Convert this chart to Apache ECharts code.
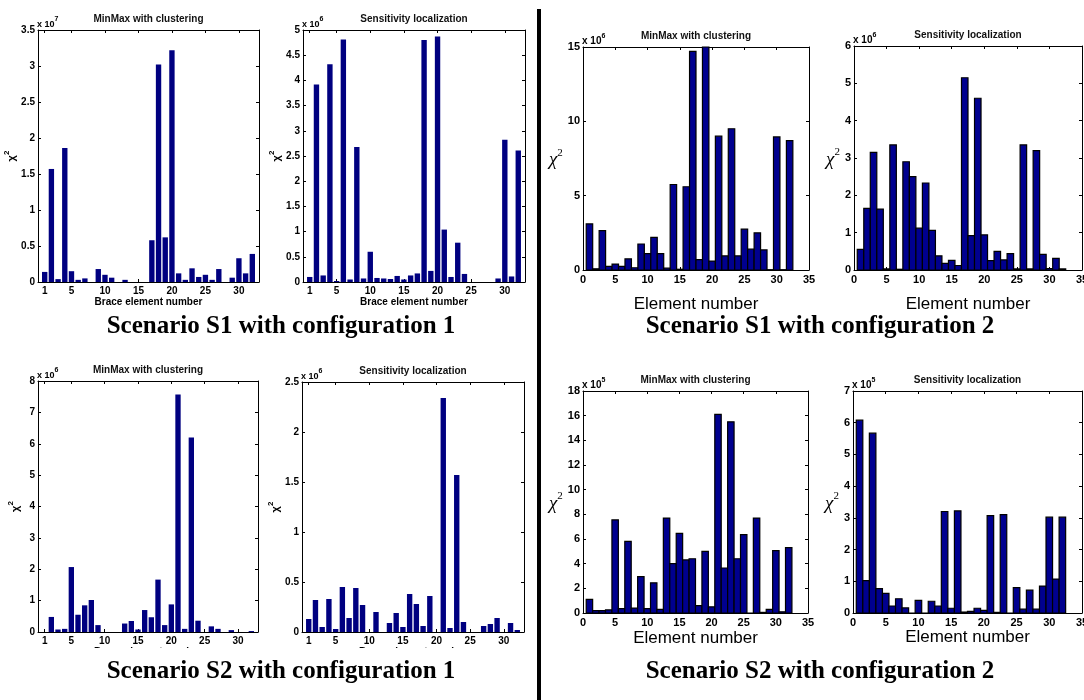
<!DOCTYPE html>
<html><head><meta charset="utf-8">
<script src="https://cdn.jsdelivr.net/npm/echarts@6/dist/echarts.min.js"></script>
<style>html,body{margin:0;padding:0;background:#fff}#c{width:1084px;height:700px}</style>
</head><body><div id="c"></div>
<script>
// ---- data ----
const elements = [1,2,3,4,5,6,7,8,9,10,11,12,13,14,15,16,17,18,19,20,21,22,23,24,25,26,27,28,29,30,31,32];
const xTicksBrace = [1,5,10,15,20,25,30];
// Scenario S1, configuration 1 (x10^7 and x10^6)
const s1c1MinMax = [0.14,1.57,0.04,1.86,0.15,0.03,0.05,0,0.18,0.10,0.06,0,0.03,0,0,0,0.58,3.02,0.62,3.22,0.12,0.03,0.19,0.07,0.10,0.03,0.18,0,0.06,0.33,0.12,0.39];
const s1c1Sens   = [0.10,3.92,0.13,4.32,0.02,4.81,0.05,2.68,0.07,0.60,0.08,0.07,0.06,0.12,0.05,0.13,0.17,4.80,0.22,4.87,1.04,0.10,0.78,0.16,0,0,0,0,0.07,2.82,0.11,2.61];
// Scenario S1, configuration 2 (x10^6)
const s1c2MinMax = [3.1,0.08,2.65,0.25,0.4,0.25,0.75,0.15,1.75,1.1,2.2,1.1,0.12,5.75,0.05,5.6,14.7,0.7,15.0,0.6,9.0,0.95,9.5,0.95,2.75,1.4,2.5,1.35,0.02,8.95,0.02,8.7];
const s1c2Sens   = [0.55,1.65,3.15,1.63,0.03,3.35,0.02,2.9,2.5,1.12,2.33,1.06,0.38,0.18,0.26,0.12,5.15,0.92,4.6,0.94,0.25,0.5,0.27,0.44,0.03,3.35,0.03,3.2,0.42,0.04,0.31,0.03];
// Scenario S2, configuration 1 (x10^6)
const s2c1MinMax = [0,0.48,0.08,0.10,2.07,0.55,0.85,1.02,0.22,0,0,0,0.27,0.35,0.08,0.70,0.47,1.67,0.22,0.88,7.57,0.10,6.20,0.36,0,0.18,0.10,0,0.06,0,0,0.03];
const s2c1Sens   = [0.13,0.32,0.05,0.33,0.03,0.45,0.14,0.44,0.27,0,0.20,0,0.09,0.19,0.05,0.38,0.28,0.06,0.36,0,2.34,0.04,1.57,0.10,0,0,0.06,0.08,0.14,0,0.09,0.02];
// Scenario S2, configuration 2 (x10^5)
const s2c2MinMax = [1.1,0.2,0.2,0.25,7.55,0.35,5.8,0.4,2.95,0.35,2.45,0.3,7.7,4.0,6.45,4.3,4.4,0.6,5.0,0.5,16.1,3.65,15.5,4.4,6.35,0,7.7,0.05,0.3,5.05,0.1,5.3];
const s2c2Sens   = [6.08,1.02,5.67,0.77,0.62,0.22,0.45,0.16,0,0.4,0,0.37,0.22,3.2,0.15,3.22,0.03,0.05,0.15,0.08,3.07,0.02,3.1,0,0.8,0.12,0.72,0.12,0.85,3.02,1.07,3.02];

const titleMinMax = 'MinMax with clustering';
const titleSens = 'Sensitivity localization';
const captions = ['Scenario S1 with configuration 1','Scenario S1 with configuration 2','Scenario S2 with configuration 1','Scenario S2 with configuration 2'];

// ---- layout ----
const SANS = '"Liberation Sans", Arial, sans-serif';
const SERIF = '"Liberation Serif", "Times New Roman", serif';
const panels = [
  {kind:'L', data:s1c1MinMax, title:titleMinMax, exp:'7', ymax:3.5, yInt:0.5, box:[38,30,221,252], xGap:14},
  {kind:'L', data:s1c1Sens,   title:titleSens,   exp:'6', ymax:5,   yInt:0.5, box:[303,30,222,252], xGap:14},
  {kind:'R', data:s1c2MinMax, title:titleMinMax, exp:'6', ymax:15,  yInt:5,   box:[583,47,226,223], xGap:26},
  {kind:'R', data:s1c2Sens,   title:titleSens,   exp:'6', ymax:6,   yInt:1,   box:[854,46,228,224], xGap:26},
  {kind:'L', data:s2c1MinMax, title:titleMinMax, exp:'6', ymax:8,   yInt:1,   box:[38,381,220,251], xGap:14},
  {kind:'L', data:s2c1Sens,   title:titleSens,   exp:'6', ymax:2.5, yInt:0.5, box:[302,382,222,250], xGap:14},
  {kind:'R', data:s2c2MinMax, title:titleMinMax, exp:'5', ymax:18,  yInt:2,   box:[583,391,225,222], xGap:17},
  {kind:'R', data:s2c2Sens,   title:titleSens,   exp:'5', ymax:7,   yInt:1,   box:[853,391,229,222], xGap:16}
];

function barRenderer(half, style) {
  return function (params, api) {
    const x = api.value(0), v = api.value(1);
    const a = api.coord([x - half, v]);
    const b = api.coord([x + half, 0]);
    const cs = params.coordSys;
    const shape = echarts.graphic.clipRectByRect(
      {x: a[0], y: a[1], width: b[0] - a[0], height: b[1] - a[1]},
      {x: cs.x, y: cs.y, width: cs.width, height: cs.height});
    if (!shape) return null;
    return {type: 'rect', shape: shape, style: style};
  };
}

const option = {animation:false, backgroundColor:'#fff', grid:[], xAxis:[], yAxis:[], series:[], graphic:[]};

panels.forEach(function (p, i) {
  const L = p.kind === 'L';
  const [gl, gt, gw, gh] = p.box;
  option.grid.push({left:gl, top:gt, width:gw, height:gh, containLabel:false, outerBoundsMode:'none'});
  const tickFont = {color:'#000', fontFamily:SANS, fontWeight:'bold', fontSize: L ? 10 : 11};
  const line = {show:true, onZero:false, lineStyle:{color:'#000', width:1}};
  const tick = {show:true, inside:true, length:3, lineStyle:{color:'#000', width:1}};
  const xBase = {gridIndex:i, type:'value', min:0, max: L ? 33 : 35, splitLine:{show:false}, axisLine:line};
  let xTick = Object.assign({}, tick);
  let xLabel = Object.assign({margin:4}, tickFont);
  if (L) { xTick.customValues = xTicksBrace; xLabel.customValues = xTicksBrace; }
  else { xBase.interval = 5; }
  option.xAxis.push(Object.assign({}, xBase, {
    position:'bottom', axisTick:xTick, axisLabel:xLabel,
    name: L ? 'Brace element number' : 'Element number', nameLocation:'middle', nameGap:p.xGap,
    nameTextStyle: L ? {color:'#000', fontFamily:SANS, fontWeight:'bold', fontSize:10, verticalAlign:'top'}
                     : {color:'#000', fontFamily:SANS, fontSize:17, verticalAlign:'top'}
  }));
  option.xAxis.push(Object.assign({}, xBase, {position:'top', axisTick:xTick, axisLabel:{show:false}}));
  const yBase = {gridIndex:i, type:'value', min:0, max:p.ymax, interval:p.yInt, splitLine:{show:false}, axisLine:line, axisTick:tick};
  option.yAxis.push(Object.assign({}, yBase, {
    position:'left', axisLabel:Object.assign({margin:3}, tickFont),
    name:'{a|χ}{b|2}', nameLocation:'middle',
    nameGap: L ? 17 : 14, nameRotate: L ? 90 : 0,
    nameTextStyle: L
      ? {rich:{a:{color:'#000', fontFamily:SANS, fontWeight:'bold', fontSize:11, lineHeight:14, verticalAlign:'bottom'},
               b:{color:'#000', fontFamily:SANS, fontWeight:'bold', fontSize:8, lineHeight:14, verticalAlign:'top'}}}
      : {rich:{a:{color:'#000', fontFamily:SERIF, fontStyle:'italic', fontSize:19, lineHeight:22, verticalAlign:'bottom'},
               b:{color:'#000', fontFamily:SERIF, fontSize:11, lineHeight:22, verticalAlign:'top'}}}
  }));
  option.yAxis.push(Object.assign({}, yBase, {position:'right', axisLabel:{show:false}}));

  option.series.push({
    type:'custom', xAxisIndex:2*i, yAxisIndex:2*i, z:2,
    data: elements.map(function (e, k) { return [e, p.data[k]]; }),
    renderItem: L ? barRenderer(0.4, {fill:'#000080', stroke:null})
                  : barRenderer(0.5, {fill:'#00008f', stroke:'#000', lineWidth:1.2})
  });

  // panel title
  option.graphic.push({type:'text', z:100, x: gl + gw / 2, y: gt - 11,
    style:{text:p.title, fill:'#111', font:'bold 10px ' + SANS, align:'center', verticalAlign:'middle'}});
  // exponent "x 10^n"
  option.graphic.push({type:'text', z:100, x: gl - 1, y: gt - 1,
    style:{text:'{a|x 10}{b|' + p.exp + '}', align:'left', verticalAlign:'bottom',
      rich:{a:{fill:'#000', font:'bold ' + (L ? 9 : 10) + 'px ' + SANS, lineHeight:13, verticalAlign:'bottom'},
            b:{fill:'#000', font:'bold 7px ' + SANS, lineHeight:13, verticalAlign:'top'}}}});
});

// white strip hiding the lower part of the bottom-left x labels (as in the source figure)
option.graphic.push({type:'rect', z:90, shape:{x:0, y:648, width:534, height:14}, style:{fill:'#fff'}});
// vertical divider
option.graphic.push({type:'rect', z:100, shape:{x:537, y:9, width:4, height:691}, style:{fill:'#000'}});
// captions
const capPos = [[281,327],[820,327],[281,672],[820,672]];
captions.forEach(function (c, k) {
  option.graphic.push({type:'text', z:100, x:capPos[k][0], y:capPos[k][1],
    style:{text:c, fill:'#000', font:'bold 25px ' + SERIF, align:'center', verticalAlign:'middle'}});
});

const chart = echarts.init(document.getElementById('c'));
chart.setOption(option);
</script></body></html>
